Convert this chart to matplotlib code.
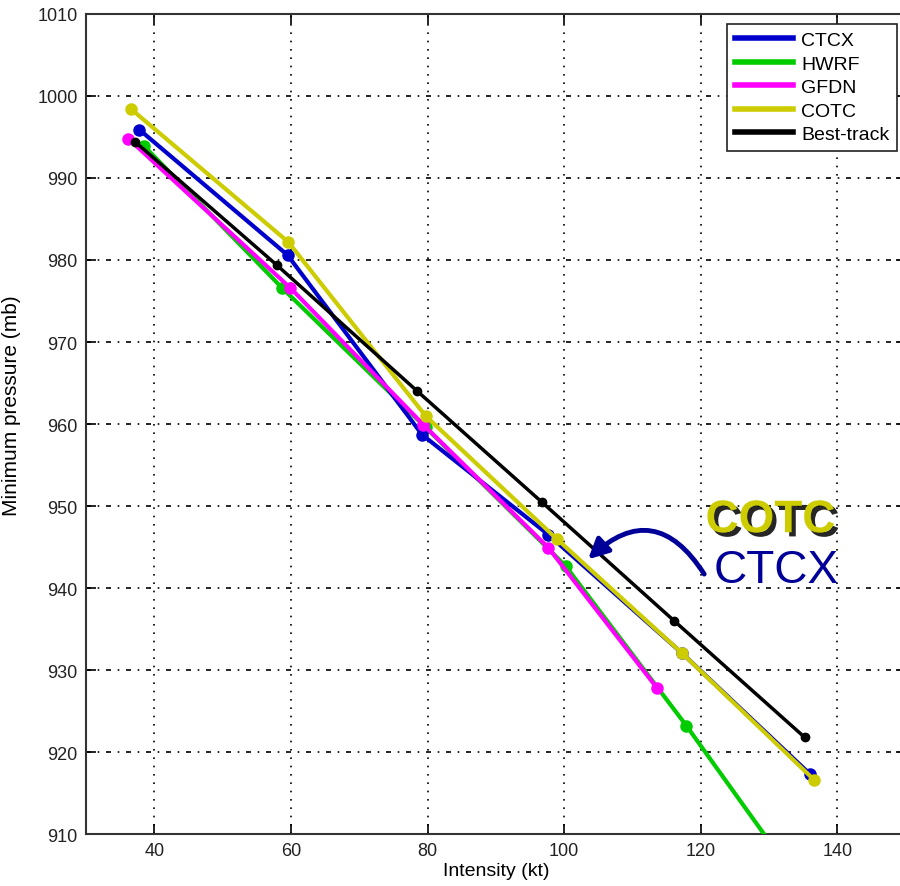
import matplotlib
matplotlib.use('Agg')
from matplotlib import pyplot as plt
from matplotlib import patheffects as pe
from matplotlib.lines import Line2D

plt.rcParams['font.family'] = ['Liberation Sans', 'DejaVu Sans']

# intensity (kt) / minimum pressure (mb) per model
ctcx_x = [37.8, 59.5, 79.2, 97.7, 117.2, 136.0]
ctcx_y = [995.9, 980.6, 958.7, 946.5, 932.1, 917.3]

hwrf_x = [38.5, 58.7, 79.7, 100.2, 117.9, 137.0]
hwrf_y = [993.9, 976.6, 959.6, 942.7, 923.2, 901.0]

gfdn_x = [36.2, 59.9, 79.4, 97.7, 113.6]
gfdn_y = [994.8, 976.6, 959.9, 944.9, 927.8]

cotc_x = [36.6, 59.6, 79.7, 98.9, 117.2, 136.6]
cotc_y = [998.4, 982.2, 961.0, 946.0, 932.1, 916.6]

best_x = [37.2, 57.9, 78.5, 96.7, 116.1, 135.2]
best_y = [994.4, 979.4, 964.0, 950.5, 936.0, 921.8]

names = ['CTCX', 'HWRF', 'GFDN', 'COTC', 'Best-track']
colors = ['#0000cc', '#00cc00', '#ff00ff', '#cccc00', 'black']

fig = plt.figure(figsize=(9, 8.87), dpi=100)
ax = fig.add_axes([0.0956, 0.0586, 0.9107, 0.9245])

ax.plot(ctcx_x, ctcx_y, color=colors[0], lw=3, marker='o', ms=8, zorder=4)
ax.plot(hwrf_x, hwrf_y, color=colors[1], lw=3, marker='o', ms=8, zorder=3)
ax.plot(gfdn_x, gfdn_y, color=colors[2], lw=3, marker='o', ms=8, zorder=4)
ax.plot(cotc_x, cotc_y, color=colors[3], lw=3, marker='o', ms=8, zorder=5)
ax.plot(best_x, best_y, color=colors[4], lw=2.5, marker='o', ms=6, zorder=6)

ax.set_xlim(30, 150)
ax.set_ylim(910, 1010)
ax.set_xticks([40, 60, 80, 100, 120, 140])
ax.set_yticks(range(910, 1011, 10))

for x in [40, 60, 80, 100, 120, 140]:
    ax.axvline(x, color='black', lw=1.2, ls=(0, (1, 4)), zorder=1)
for y in range(920, 1010, 10):
    ax.axhline(y, color='black', lw=1.2, ls=(0, (3, 4, 1, 4)), zorder=1)

ax.tick_params(direction='in', length=7, width=1.2, top=True, right=True,
               labelsize=13, labelcolor='#222222', pad=6)
for s in ax.spines.values():
    s.set_linewidth(1.5)
    s.set_color('#333333')

ax.set_xlabel('Intensity (kt)', fontsize=14, labelpad=2)
ax.set_ylabel('Minimum pressure (mb)', fontsize=15)
ax.yaxis.set_label_coords(-0.079, 0.523)

handles = [Line2D([], [], color=c, lw=4) for c in colors]
leg = ax.legend(handles, names, loc='upper left', bbox_to_anchor=(0.782, 0.988), fontsize=14,
                fancybox=False, edgecolor='#222222', framealpha=1,
                handlelength=3.0, handletextpad=0.4, labelspacing=0.3,
                borderpad=0.4, borderaxespad=0)
leg.get_frame().set_linewidth(1.2)
leg.set_zorder(10)

ax.text(120.7, 946.8, 'COTC', fontsize=33, fontweight='bold', color='#cccc00',
        path_effects=[pe.SimplePatchShadow(offset=(3, -3), shadow_rgbFace='black', alpha=0.85),
                      pe.Normal()], zorder=8)
ax.text(121.9, 940.7, 'CTCX', fontsize=33, color='#000099', zorder=8)

ax.annotate('', xy=(103.5, 943.5), xytext=(120.5, 941.7),
            arrowprops=dict(arrowstyle='-|>,head_length=1.2,head_width=0.6',
                            connectionstyle='arc3,rad=0.6', color='#000099',
                            lw=3.5, shrinkA=0, shrinkB=0),
            zorder=9)

fig.savefig('out.png', dpi=100)
